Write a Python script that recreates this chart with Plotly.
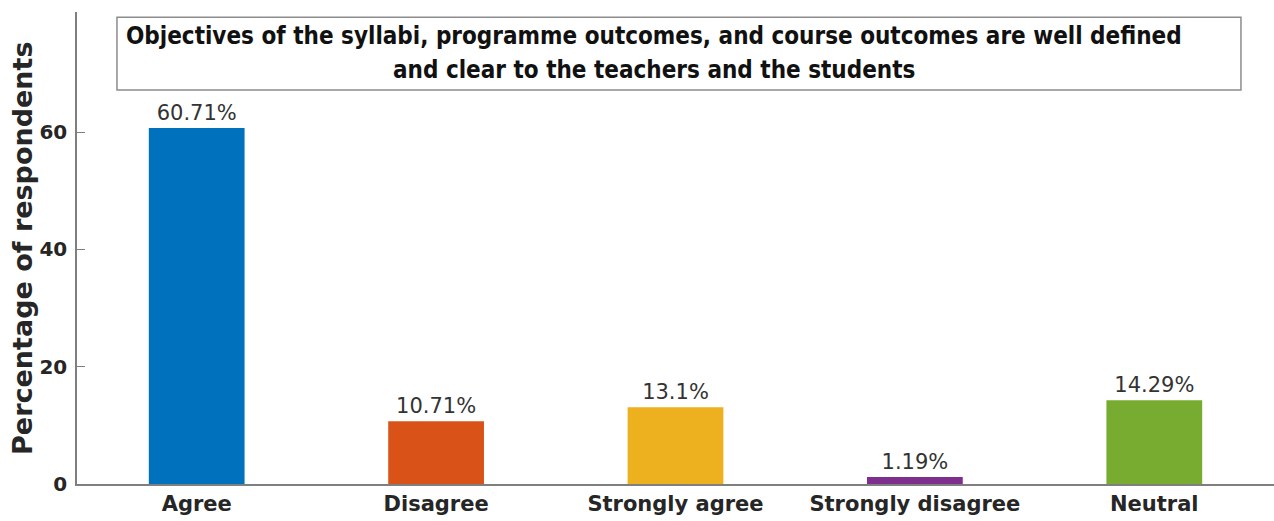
import plotly.graph_objects as go

# survey responses (percentage of respondents)
categories = ["Agree", "Disagree", "Strongly agree", "Strongly disagree", "Neutral"]
percentages = [60.71, 10.71, 13.1, 1.19, 14.29]
labels = ["60.71%", "10.71%", "13.1%", "1.19%", "14.29%"]
colors = ["#0072BD", "#D95319", "#EDB120", "#7E2F8E", "#77AC30"]
y_ticks = [0, 20, 40, 60]

title_lines = ["Objectives of the syllabi, programme outcomes, and course outcomes are well defined",
               "and clear to the teachers and the students"]

FONT = "DejaVu Sans"

fig = go.Figure()
fig.add_trace(go.Bar(
    x=categories, y=percentages,
    marker=dict(color=colors, line=dict(width=0)),
    width=0.4,
    text=labels, textposition="outside", cliponaxis=False,
    textfont=dict(family=FONT, size=21, color="#333333"),
    showlegend=False,
))

# title box
fig.add_shape(type="rect", xref="paper", yref="paper",
              x0=0.0334, x1=0.9724, y0=0.835, y1=0.989,
              line=dict(color="#8c8c8c", width=1.5), fillcolor="white")
for line, ypos in zip(title_lines, [0.949, 0.877]):
    fig.add_annotation(
        x=0.482, y=ypos, xref="paper", yref="paper", xanchor="center", yanchor="middle",
        text="<b>" + line + "</b>", showarrow=False,
        font=dict(family="DejaVu Sans Condensed, DejaVu Sans", size=24, color="#111111"),
    )

# y axis title
fig.add_annotation(
    x=-0.046, y=0.5, xref="paper", yref="paper", xanchor="center", yanchor="middle",
    text="<b>Percentage of respondents</b>", showarrow=False, textangle=-90,
    font=dict(family=FONT, size=27, color="#262626"),
)

fig.update_layout(
    width=1274, height=521,
    paper_bgcolor="white", plot_bgcolor="white",
    margin=dict(l=77, r=0, t=12, b=37),
    font=dict(family=FONT, color="#333333"),
)
fig.update_xaxes(
    range=[-0.5, 4.5], showline=True, linecolor="#7f7f7f", linewidth=1.5,
    ticks="", showgrid=False, automargin=False,
    tickfont=dict(family=FONT, size=21, color="#262626", weight="bold"),
)
fig.update_yaxes(
    range=[0, 80.5], tickvals=y_ticks, showgrid=False, zeroline=False,
    showline=True, linecolor="#7f7f7f", linewidth=1.5, automargin=False,
    ticks="inside", ticklen=8, tickcolor="#7f7f7f", ticklabelstandoff=4,
    tickfont=dict(family=FONT, size=20, color="#262626", weight="bold"),
)

fig.write_html("out.html", config={"displayModeBar": False},
               post_script="document.body.style.margin='0';")
